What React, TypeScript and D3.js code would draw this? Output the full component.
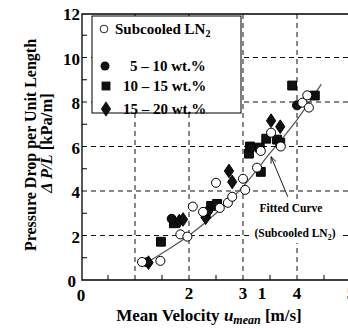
import React, { useEffect, useRef } from "react";
import * as d3 from "d3";

// measured points [u_mean (m/s), dP/L (kPa/m)]
const subcooled: [number, number][] = [
  [1.13, 0.81], [1.47, 0.86], [1.84, 2.05], [1.97, 1.95], [2.07, 3.3],
  [2.26, 3.06], [2.5, 4.37], [2.57, 3.24], [2.72, 3.47], [2.8, 3.74],
  [3.0, 4.55], [3.04, 4.05], [3.26, 5.05], [3.33, 5.8], [3.52, 6.62],
  [3.7, 6.0], [4.1, 7.97], [4.19, 8.3], [4.22, 7.75],
];
const wt5to10: [number, number][] = [
  [1.22, 0.8], [1.68, 2.75], [2.35, 3.1], [3.15, 5.95], [4.0, 7.85],
];
const wt10to15: [number, number][] = [
  [1.48, 1.72], [1.72, 2.55], [2.31, 2.97], [2.41, 3.33], [2.52, 3.42],
  [3.11, 5.68], [3.13, 6.0], [3.31, 5.95], [3.33, 4.86], [3.43, 6.35],
  [3.63, 6.31], [3.69, 6.17], [3.91, 8.74], [4.33, 8.29],
];
const wt15to20: [number, number][] = [
  [1.25, 0.78], [1.82, 2.65], [1.89, 2.72], [2.31, 2.8], [2.74, 4.9],
  [2.8, 4.41], [3.52, 7.16], [3.69, 6.89],
];
// fitted curve for subcooled LN2
const fitted: [number, number][] = [
  [1.2, 0.75], [1.5, 1.2], [2.0, 2.0], [2.5, 3.0], [3.0, 4.2],
  [3.5, 5.7], [4.0, 7.2], [4.45, 8.8],
];

const yTicks = [0, 2, 4, 6, 8, 10, 12];
const yMinor = [1, 3, 5, 7, 9, 11];
const xGrid = [1, 2, 3, 4];
const xMinor = [0.5, 1.5, 2.5, 3.5, 4.5];
// tick labels as printed (the "1" sits out of place in the original)
const xTickLabels: [number, string][] = [
  [0, "0"], [2, "2"], [3, "3"], [3.35, "1"], [4, "4"], [5, "5"],
];
const legendLabels = ["5 – 10 wt.%", "10 – 15 wt.%", "15 – 20 wt.%"];
const arrowTip: [number, number] = [3.52, 5.54];
const arrowTail: [number, number] = [3.83, 3.74];

const FONT = "Liberation Serif, Times New Roman, DejaVu Serif, serif";

const PressureDropChart = () => {
  const ref = useRef<SVGSVGElement>(null);

  useEffect(() => {
    const width = 348;
    const height = 329;
    const left = 82;
    const top = 14;
    const bottom = 280;

    const x = d3.scaleLinear().domain([0, 5]).range([81, 351]);
    const y = d3.scaleLinear().domain([0, 12]).range([bottom, 13]);

    const svg = d3.select(ref.current)
      .attr("width", width)
      .attr("height", height)
      .attr("viewBox", [0, 0, width, height].join(" "))
      .attr("font-family", FONT)
      .attr("font-weight", "bold")
      .style("position", "absolute")
      .style("left", "0px")
      .style("top", "0px")
      .style("background", "#fff");
    svg.selectAll("*").remove();

    // dashed grid
    const grid = svg.append("g")
      .attr("stroke", "#111")
      .attr("stroke-width", 1)
      .attr("stroke-dasharray", "5,4");
    grid.selectAll("line.h")
      .data(yTicks.filter((v) => v > 0 && v < 12))
      .join("line")
      .attr("x1", left).attr("x2", width)
      .attr("y1", (d) => y(d)).attr("y2", (d) => y(d));
    grid.selectAll("line.v")
      .data(xGrid)
      .join("line")
      .attr("x1", (d) => x(d)).attr("x2", (d) => x(d))
      .attr("y1", bottom).attr("y2", top);

    // minor ticks, pointing inward
    const ticks = svg.append("g").attr("stroke", "#000").attr("stroke-width", 1);
    ticks.selectAll("line.xm")
      .data(xMinor)
      .join("line")
      .attr("x1", (d) => x(d)).attr("x2", (d) => x(d))
      .attr("y1", bottom).attr("y2", bottom - 5);
    ticks.selectAll("line.ym")
      .data(yMinor)
      .join("line")
      .attr("x1", left).attr("x2", left + 5)
      .attr("y1", (d) => y(d)).attr("y2", (d) => y(d));

    // frame
    svg.append("path")
      .attr("d", `M${width},${top}H${left}V${bottom}H${width}`)
      .attr("fill", "none")
      .attr("stroke", "#000")
      .attr("stroke-width", 1.3);

    // white patch behind the annotation text
    svg.append("rect")
      .attr("x", 252).attr("y", 199)
      .attr("width", 90).attr("height", 44)
      .attr("fill", "#fff");

    // fitted curve
    const line = d3.line<[number, number]>()
      .x((d) => x(d[0]))
      .y((d) => y(d[1]))
      .curve(d3.curveMonotoneX);
    svg.append("path")
      .datum(fitted)
      .attr("d", line)
      .attr("fill", "none")
      .attr("stroke", "#555")
      .attr("stroke-width", 1.2);

    // markers
    const sym = (type: d3.SymbolType, size: number) => d3.symbol().type(type).size(size)();
    const circle = sym(d3.symbolCircle, 64);
    const square = sym(d3.symbolSquare, 78);
    const diamond = sym(d3.symbolDiamond, 75);

    const plotSeries = (data: [number, number][], path: string | null, fill: string) => {
      svg.append("g")
        .selectAll("path")
        .data(data)
        .join("path")
        .attr("d", path)
        .attr("transform", (d) => `translate(${x(d[0])},${y(d[1])})${path === diamond ? " scale(1,0.85)" : ""}`)
        .attr("fill", fill)
        .attr("stroke", "#000")
        .attr("stroke-width", 1);
    };
    plotSeries(wt10to15, square, "#111");
    plotSeries(wt15to20, diamond, "#111");
    plotSeries(wt5to10, circle, "#111");
    plotSeries(subcooled, circle, "#fff");

    // annotation
    svg.append("line")
      .attr("x1", x(arrowTail[0])).attr("y1", y(arrowTail[1]))
      .attr("x2", x(arrowTip[0])).attr("y2", y(arrowTip[1]))
      .attr("stroke", "#000").attr("stroke-width", 0.9);
    const ang = Math.atan2(y(arrowTip[1]) - y(arrowTail[1]), x(arrowTip[0]) - x(arrowTail[0]));
    const head = [ang + Math.PI - 0.4, ang + Math.PI + 0.4].map((a) =>
      [x(arrowTip[0]) + 7 * Math.cos(a), y(arrowTip[1]) + 7 * Math.sin(a)]);
    svg.append("path")
      .attr("d", `M${head[0][0]},${head[0][1]}L${x(arrowTip[0])},${y(arrowTip[1])}L${head[1][0]},${head[1][1]}`)
      .attr("fill", "none").attr("stroke", "#000").attr("stroke-width", 0.9);

    svg.append("text")
      .attr("x", 291).attr("y", 212)
      .attr("text-anchor", "middle")
      .attr("font-size", 11.5)
      .text("Fitted Curve");
    const ann = svg.append("text")
      .attr("x", 295).attr("y", 237)
      .attr("text-anchor", "middle")
      .attr("font-size", 11.5);
    ann.append("tspan").text("(Subcooled LN");
    ann.append("tspan").attr("font-size", 8).attr("dy", 3).text("2");
    ann.append("tspan").attr("dy", -3).text(")");

    // legend
    const lg = svg.append("g");
    lg.append("rect")
      .attr("x", 92).attr("y", 16)
      .attr("width", 149).attr("height", 97)
      .attr("fill", "#fff")
      .attr("stroke", "#000")
      .attr("stroke-width", 1);
    const rows = [29, 66, 86, 109];
    lg.append("path").attr("d", circle)
      .attr("transform", `translate(104,${rows[0]}) scale(0.85)`)
      .attr("fill", "#fff").attr("stroke", "#000");
    lg.append("path").attr("d", circle)
      .attr("transform", `translate(105,${rows[1]})`).attr("fill", "#111");
    lg.append("path").attr("d", square)
      .attr("transform", `translate(106,${rows[2]})`).attr("fill", "#111");
    lg.append("path").attr("d", diamond)
      .attr("transform", `translate(106,${rows[3]}) scale(1.1,0.95)`).attr("fill", "#111");
    const t0 = lg.append("text").attr("x", 115).attr("y", rows[0] + 5).attr("font-size", 15);
    t0.append("tspan").text("Subcooled LN");
    t0.append("tspan").attr("font-size", 10).attr("dy", 3).text("2");
    lg.selectAll("text.lab")
      .data(legendLabels)
      .join("text")
      .attr("x", (d, i) => (i === 0 ? 130 : 123))
      .attr("y", (d, i) => rows[i + 1] + 5)
      .attr("font-size", 15)
      .text((d) => d);

    // tick labels
    svg.append("g")
      .selectAll("text")
      .data(yTicks)
      .join("text")
      .attr("x", (d) => (d === 0 ? 76 : 80))
      .attr("y", (d) => y(d) + 7)
      .attr("text-anchor", "end")
      .attr("font-size", 17)
      .text((d) => d);
    svg.append("g")
      .selectAll("text")
      .data(xTickLabels)
      .join("text")
      .attr("x", (d) => x(d[0]))
      .attr("y", (d) => (d[0] === 0 ? 301 : 299))
      .attr("text-anchor", "middle")
      .attr("font-size", 17)
      .text((d) => d[1]);

    // axis titles
    const xt = svg.append("text")
      .attr("x", 209).attr("y", 321)
      .attr("text-anchor", "middle")
      .attr("font-size", 17);
    xt.append("tspan").text("Mean Velocity ");
    xt.append("tspan").attr("font-style", "italic").text("u");
    xt.append("tspan").attr("font-style", "italic").attr("font-size", 12).attr("dy", 3).text("mean");
    xt.append("tspan").attr("dy", -3).text(" [m/s]");

    svg.append("text")
      .attr("transform", "translate(36,145) rotate(-90)")
      .attr("text-anchor", "middle")
      .attr("font-size", 16)
      .text("Pressure Drop per Unit Length");
    const yt = svg.append("text")
      .attr("transform", "translate(52,143) rotate(-90)")
      .attr("text-anchor", "middle")
      .attr("font-size", 16.5);
    yt.append("tspan").attr("font-style", "italic").text("Δ P/L");
    yt.append("tspan").text(" [kPa/m]");
  }, []);

  return <svg ref={ref}></svg>;
};

export default function App() {
  return <PressureDropChart />;
}
